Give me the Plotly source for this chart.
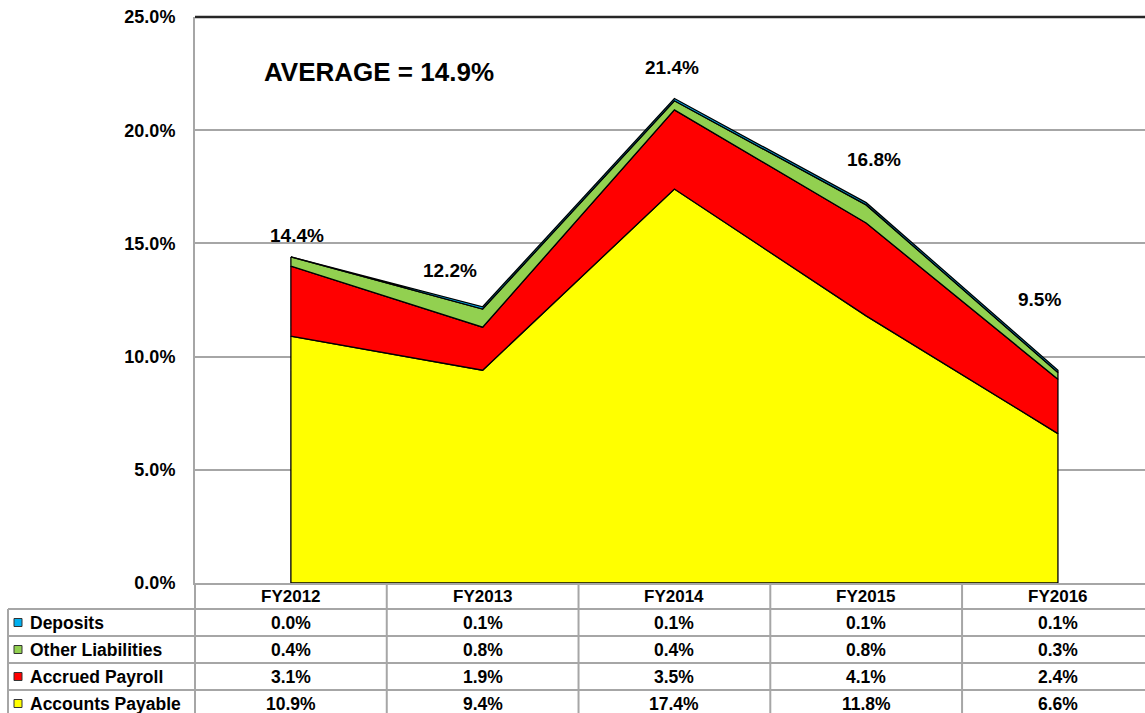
import plotly.graph_objects as go

# ---------------- data ----------------
categories = ["FY2012", "FY2013", "FY2014", "FY2015", "FY2016"]
deposits = [0.0, 0.1, 0.1, 0.1, 0.1]
other_liabilities = [0.4, 0.8, 0.4, 0.8, 0.3]
accrued_payroll = [3.1, 1.9, 3.5, 4.1, 2.4]
accounts_payable = [10.9, 9.4, 17.4, 11.8, 6.6]
total_labels = [14.4, 12.2, 21.4, 16.8, 9.5]
average_value = 14.9
y_ticks = [0, 5, 10, 15, 20, 25]

# series from bottom to top
series_names = ["Accounts Payable", "Accrued Payroll", "Other Liabilities", "Deposits"]
series_values = [accounts_payable, accrued_payroll, other_liabilities, deposits]
series_colors = ["#FFFF00", "#FF0000", "#92D050", "#00B0F0"]

# table row order (top to bottom)
table_names = ["Deposits", "Other Liabilities", "Accrued Payroll", "Accounts Payable"]
table_values = [deposits, other_liabilities, accrued_payroll, accounts_payable]
table_colors = ["#00B0F0", "#92D050", "#FF0000", "#FFFF00"]

# label offsets in pixels (styling)
label_dx = [6, -33, -2, 8, -18]
label_dy = [21, 36, 31, 43, 71]

# ---------------- layout geometry ----------------
W, H = 1145, 713
L, R, T, B = 195, 0, 17, 130
PW, PH = W - L - R, H - T - B
XMIN, XMAX = -0.5, 4.454

def px_x(p):
    return (p - L) / PW

def px_y(p):
    return (H - B - p) / PH

def data_x_to_paper(v):
    return (v - XMIN) / (XMAX - XMIN)

FONT = "Liberation Sans, Arial, sans-serif"
GRID = "#A6A6A6"
FS = 18

fig = go.Figure()

idx = list(range(len(categories)))
cum_prev = [0.0] * len(categories)
for name, vals, col in zip(series_names, series_values, series_colors):
    top = [a + b for a, b in zip(cum_prev, vals)]
    xs = idx + idx[::-1] + [idx[0]]
    ys = top + cum_prev[::-1] + [top[0]]
    fig.add_trace(go.Scatter(
        x=xs, y=ys, mode="lines", fill="toself", fillcolor=col,
        line=dict(color="black", width=1.3), name=name, hoverinfo="skip",
        showlegend=False,
    ))
    cum_prev = top

annotations = []
# total labels
for i, (tv, dx, dy) in enumerate(zip(total_labels, label_dx, label_dy)):
    ytop = sum(s[i] for s in series_values)
    annotations.append(dict(
        x=i, y=ytop, xref="x", yref="y", text=f"<b>{tv:.1f}%</b>",
        showarrow=False, xshift=dx, yshift=dy,
        font=dict(family=FONT, size=FS + 1, color="black"),
        xanchor="center", yanchor="middle",
    ))

# average annotation
annotations.append(dict(
    x=px_x(262), y=px_y(72), xref="paper", yref="paper",
    text=f"<b>AVERAGE = {average_value:.1f}%</b>", showarrow=False,
    xanchor="left", yanchor="middle",
    font=dict(family=FONT, size=26, color="black"),
))

# ---------------- data table ----------------
header_top = H - B          # 583
row_lines = [609, 636, 663, 690, 717]
header_center = (header_top + row_lines[0]) / 2
row_centers = [(row_lines[k] + row_lines[k + 1]) / 2 for k in range(4)]

shapes = []
# vertical column boundaries
for k in range(len(categories) + 1):
    xp = data_x_to_paper(k - 0.5)
    shapes.append(dict(type="line", xref="paper", yref="paper",
                       x0=xp, x1=xp, y0=px_y(header_top), y1=px_y(H + 5),
                       line=dict(color=GRID, width=2)))
# left border of label column
shapes.append(dict(type="line", xref="paper", yref="paper",
                   x0=px_x(8), x1=px_x(8), y0=px_y(row_lines[0]), y1=px_y(H + 5),
                   line=dict(color=GRID, width=2)))
# horizontal row lines
for rl in row_lines:
    shapes.append(dict(type="line", xref="paper", yref="paper",
                       x0=px_x(8), x1=1.0, y0=px_y(rl), y1=px_y(rl),
                       line=dict(color=GRID, width=2)))
# top border of plot
shapes.append(dict(type="line", xref="paper", yref="paper",
                   x0=0, x1=1, y0=1, y1=1, line=dict(color="#262626", width=2.5)))

# header text
for i, c in enumerate(categories):
    annotations.append(dict(
        x=data_x_to_paper(i), y=px_y(header_center), xref="paper", yref="paper",
        text=f"<b>{c}</b>", showarrow=False, xanchor="center", yanchor="middle",
        font=dict(family=FONT, size=FS - 1, color="black"),
    ))

# rows
for r, (nm, vals, col) in enumerate(zip(table_names, table_values, table_colors)):
    yc = row_centers[r]
    shapes.append(dict(type="rect", xref="paper", yref="paper",
                       x0=px_x(14), x1=px_x(22), y0=px_y(yc - 4), y1=px_y(yc + 4),
                       fillcolor=col, line=dict(color="#333333", width=1)))
    annotations.append(dict(
        x=px_x(28), y=px_y(yc), xref="paper", yref="paper",
        text=f"<b>{nm}</b>", showarrow=False, xanchor="left", yanchor="middle",
        font=dict(family=FONT, size=FS - 0.5, color="black"),
    ))
    for i, v in enumerate(vals):
        annotations.append(dict(
            x=data_x_to_paper(i), y=px_y(yc), xref="paper", yref="paper",
            text=f"<b>{v:.1f}%</b>", showarrow=False, xanchor="center", yanchor="middle",
            font=dict(family=FONT, size=FS - 0.5, color="black"),
        ))

fig.update_layout(
    width=W, height=H,
    margin=dict(l=L, r=R, t=T, b=B, pad=0),
    paper_bgcolor="white", plot_bgcolor="white",
    showlegend=False,
    xaxis=dict(range=[XMIN, XMAX], showticklabels=False, showgrid=False,
               zeroline=False, showline=True, linecolor=GRID, linewidth=2,
               ticks="", fixedrange=True),
    yaxis=dict(range=[0, 25], tickvals=y_ticks,
               ticktext=[f"<b>{v:.1f}%</b>" for v in y_ticks],
               showgrid=True, gridcolor=GRID, gridwidth=1.5,
               zeroline=False, showline=True, linecolor=GRID, linewidth=2,
               ticks="outside", ticklen=14, tickcolor="rgba(0,0,0,0)",
               tickfont=dict(family=FONT, size=FS, color="black"),
               fixedrange=True),
    annotations=annotations,
    shapes=shapes,
)

fig.write_html(
    "out.html",
    config={"displayModeBar": False},
    post_script="document.body.style.margin='0px';document.body.style.overflow='hidden';",
)
